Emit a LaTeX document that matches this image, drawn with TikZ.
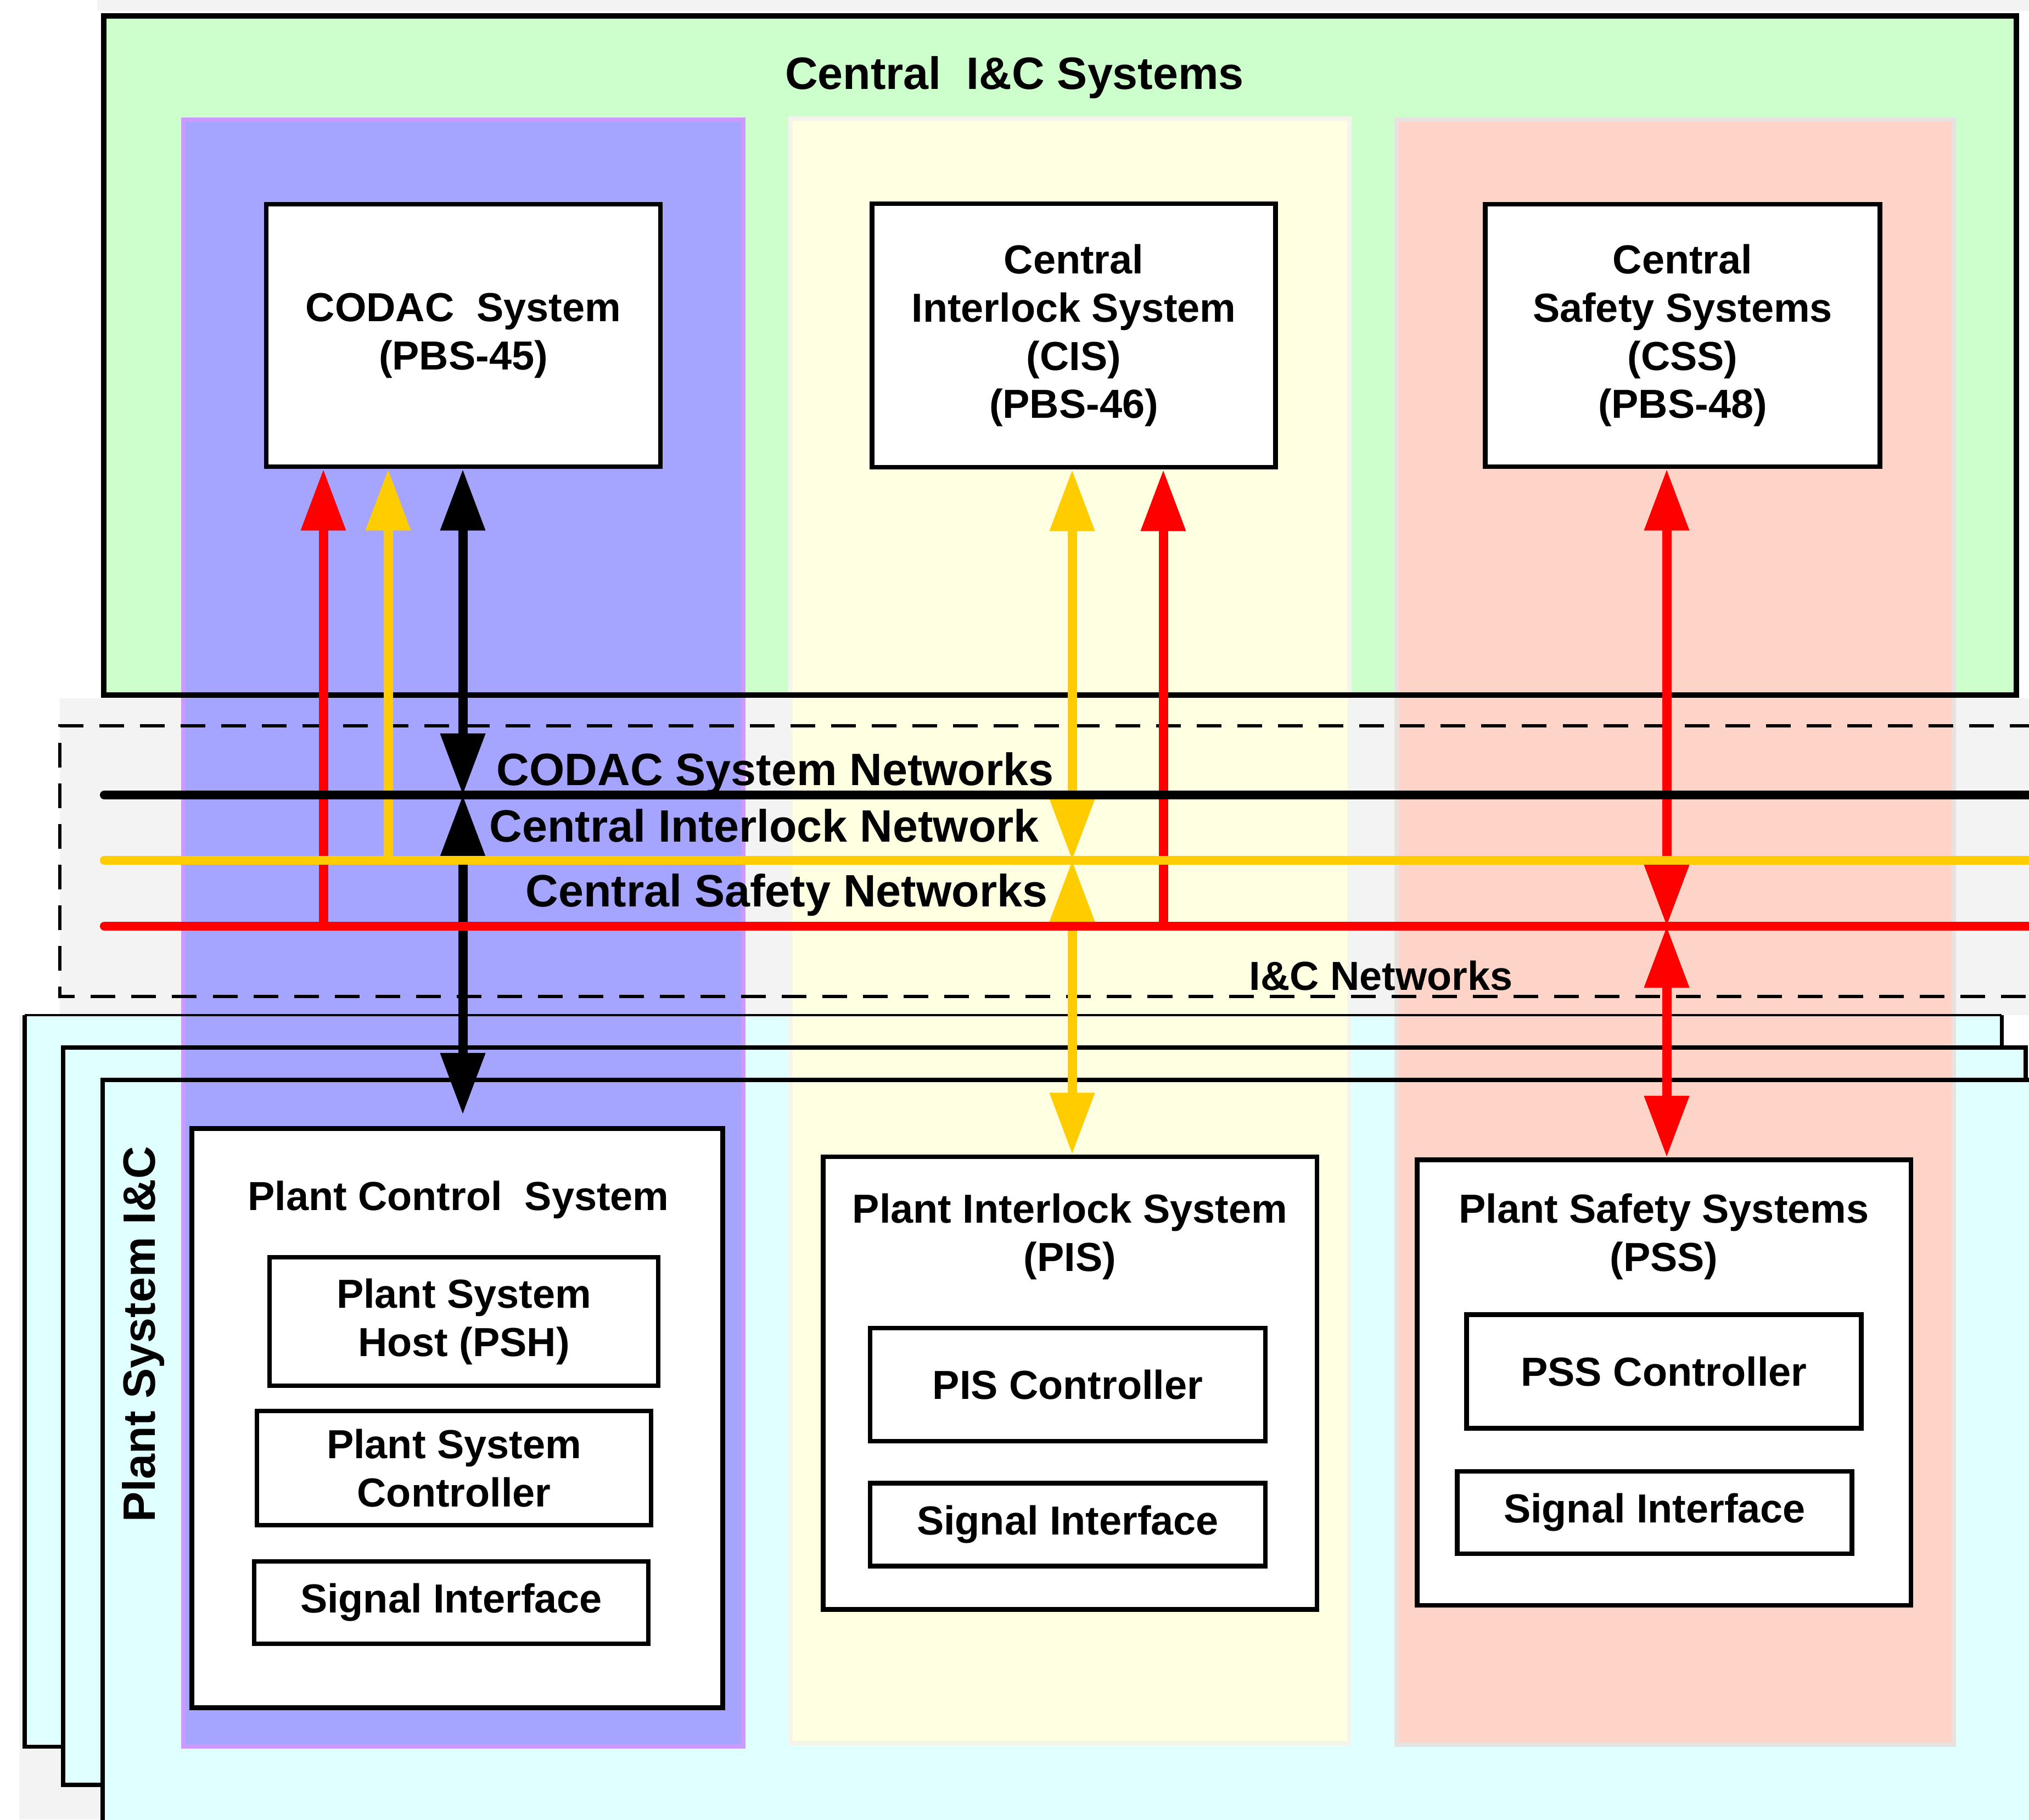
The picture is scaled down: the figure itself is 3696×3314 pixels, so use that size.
\documentclass[tikz,border=0pt]{standalone}
\usepackage{fontspec}
\setmainfont{Liberation Sans}
\usetikzlibrary{arrows.meta}
\definecolor{bggray}{HTML}{F3F3F3}
\definecolor{cgreen}{HTML}{CCFFCC}
\definecolor{cpurple}{HTML}{A5A5FF}
\definecolor{cviolet}{HTML}{CC99FF}
\definecolor{cyellow}{HTML}{FFFFE1}
\definecolor{cyellowb}{HTML}{F4F4EC}
\definecolor{csalmon}{HTML}{FFD4C8}
\definecolor{csalmonb}{HTML}{E6E2E0}
\definecolor{ccyan}{HTML}{E0FFFF}
\definecolor{nyellow}{HTML}{FFCC00}
\definecolor{nred}{HTML}{FF0000}
\begin{document}
\begin{tikzpicture}[x=0.01cm,y=-0.01cm,
  box/.style={draw=black, fill=white, line width=0.085cm, inner sep=0pt, align=center,
    font=\fontsize{21pt}{25pt}\selectfont\bfseries},
  lbl/.style={inner sep=0pt, align=center, font=\fontsize{21pt}{25pt}\selectfont\bfseries},
  biglbl/.style={inner sep=0pt, font=\fontsize{23.5pt}{28pt}\selectfont\bfseries},
  netline/.style={line width=0.16cm, line cap=round},
  conn/.style={line width=0.17cm},
  dashline/.style={line width=0.06cm, dash pattern=on 0.45cm off 0.29cm},
  >={Triangle[length=1.12cm,width=0.78cm]}]
\useasboundingbox (0,0) rectangle (3696,3314);
\clip (0,0) rectangle (3696,3314);
\fill[white] (0,0) rectangle (3696,3314);
% gray backdrop pieces
\fill[bggray] (177,0) rectangle (3696,20);
\fill[bggray] (109,1272) rectangle (3696,1849);
\fill[bggray] (35,1849) rectangle (187,3314);
% green central box fill
\fill[cgreen] (189,29) rectangle (3673,1266);
% plant system frames
\fill[ccyan] (45,1849) rectangle (3646,3181);
\draw[line width=0.07cm] (45,1849) -- (45,3181) -- (3646,3181) -- (3646,1849);
\filldraw[fill=ccyan, draw=black, line width=0.08cm] (115,1908) rectangle (3690,3251);
\filldraw[fill=ccyan, draw=black, line width=0.08cm] (187,1967) rectangle (3780,3420);
% columns
\fill[cviolet] (330,214) rectangle (1358,3185);
\fill[cpurple] (338,222) rectangle (1350,3177);
\fill[cyellowb] (1436,212) rectangle (2462,3179);
\fill[cyellow] (1444,220) rectangle (2454,3171);
\fill[csalmonb] (2540,214) rectangle (3563,3182);
\fill[csalmon] (2548,222) rectangle (3555,3174);
% borders over columns
\draw[line width=0.1cm] (189,29) rectangle (3673,1266);
\draw[line width=0.035cm] (45,1849) -- (3646,1849);
\draw[line width=0.08cm] (115,1908) -- (3690,1908);
\draw[line width=0.08cm] (187,1967) -- (3780,1967);
\draw[dashline] (3780,1322) -- (109,1322) -- (109,1815) -- (3780,1815);
% titles
\node[biglbl, anchor=base] (title) at (1848,162) {Central\ \ I\&C Systems};
\node[biglbl, rotate=90, anchor=base] (psic) at (282,2430) {Plant System I\&C};
% central boxes
\node[box, minimum width=7.18cm, minimum height=4.78cm] (codac) at (844,611) {CODAC\ \ System\\(PBS-45)};
\node[box, minimum width=7.35cm, minimum height=4.80cm] (cis) at (1956,611) {Central\\Interlock System\\(CIS)\\(PBS-46)};
\node[box, minimum width=7.19cm, minimum height=4.78cm] (css) at (3065,611) {Central\\Safety Systems\\(CSS)\\(PBS-48)};
% plant boxes
\node[box, minimum width=9.66cm, minimum height=10.54cm] (pcs) at (833,2583) {};
\node[lbl, anchor=base] (pcst) at (835,2204) {Plant Control\ \ System};
\node[box, minimum width=7.08cm, minimum height=2.34cm] (psh) at (845,2407) {Plant System\\Host (PSH)};
\node[box, minimum width=7.18cm, minimum height=2.08cm] (psc) at (827,2674) {Plant System\\Controller};
\node[box, minimum width=7.18cm, minimum height=1.50cm] (pcssi) at (822,2919) {Signal Interface};
\node[box, minimum width=8.99cm, minimum height=8.24cm] (pis) at (1949,2519) {};
\node[lbl] (pist) at (1949,2252) {Plant Interlock System\\(PIS)};
\node[box, minimum width=7.20cm, minimum height=2.06cm] (pisc) at (1945,2522) {PIS Controller};
\node[box, minimum width=7.20cm, minimum height=1.51cm] (pissi) at (1945,2777) {Signal Interface};
\node[box, minimum width=8.99cm, minimum height=8.11cm] (pss) at (3031,2518) {};
\node[lbl] (psst) at (3031,2252) {Plant Safety Systems\\(PSS)};
\node[box, minimum width=7.19cm, minimum height=2.07cm] (pssc) at (3031,2498) {PSS Controller};
\node[box, minimum width=7.19cm, minimum height=1.50cm] (psssi) at (3014,2755) {Signal Interface};
% network labels
\node[biglbl, anchor=base west] (lk) at (904,1430) {CODAC System Networks};
\node[biglbl, anchor=base west] (ly) at (891,1533) {Central Interlock Network};
\node[biglbl, anchor=base west] (lr) at (957,1651) {Central Safety Networks};
\node[lbl, anchor=base west] (lic) at (2275,1803) {I\&C Networks};
% network coordinates
\coordinate (nk) at (190,1448); \coordinate (nke) at (3760,1448);
\coordinate (ny) at (190,1567); \coordinate (nye) at (3760,1567);
\coordinate (nr) at (190,1687); \coordinate (nre) at (3760,1687);
% connectors
\coordinate (aR1) at (589,1687);
\coordinate (aY1) at (707,1567);
\coordinate (aK1) at (843,1448);
\coordinate (aK2) at (843,2030);
\coordinate (aY2) at (1953,1567);
\coordinate (aR2) at (2119,1687);
\coordinate (aR3) at (3036,1687);
\draw[conn, nred, ->] (aR1) -- (aR1 |- codac.south);
\draw[conn, nyellow, ->] (aY1) -- (aY1 |- codac.south);
\draw[conn, black, <->] (aK1 |- codac.south) -- (aK1);
\draw[conn, black, <->] (aK1) -- (aK2);
\draw[conn, nyellow, <->] (aY2 |- cis.south) -- (aY2);
\draw[conn, nyellow, <->] (aY2) -- (aY2 |- pis.north);
\draw[conn, nred, ->] (aR2) -- (aR2 |- cis.south);
\draw[conn, nred, <->] (aR3 |- css.south) -- (aR3);
\draw[conn, nred, <->] (aR3) -- (aR3 |- pss.north);
% network lines
\draw[netline, black] (nk) -- (nke);
\draw[netline, nyellow] (ny) -- (nye);
\draw[netline, nred] (nr) -- (nre);
\end{tikzpicture}
\end{document}
